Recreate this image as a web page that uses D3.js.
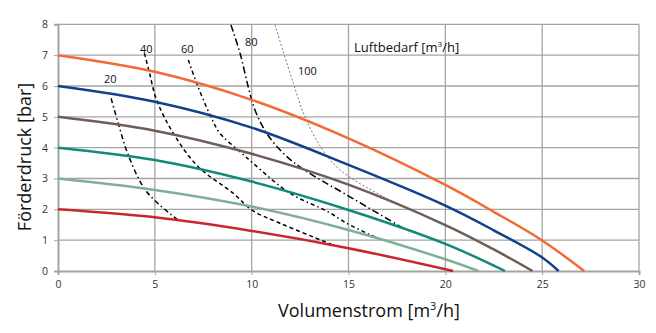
<!DOCTYPE html>
<html><head><meta charset="utf-8">
<script src="https://cdn.jsdelivr.net/npm/d3@7"></script>
<style>body{margin:0;background:#fff}svg{display:block}</style>
</head><body>
<svg id="c" width="656" height="333"></svg>
<script>
const xTicks = [0,5,10,15,20,25,30];
const yTicks = [0,1,2,3,4,5,6,7,8];

// pump curves (pressure [bar] vs flow [m3/h])
const pump7 = [[0,7],[5,6.46],[10,5.55],[15,4.3],[20,2.79],[22.5,1.92],[25,0.99],[27.17,0]];
const pump6 = [[0,6],[5,5.49],[10,4.65],[15,3.44],[20,2.12],[22.5,1.32],[25,0.44],[25.85,0]];
const pump5 = [[0,5],[5,4.55],[10,3.8],[15,2.8],[20,1.49],[22.5,0.7],[24.5,0]];
const pump4 = [[0,4],[5,3.6],[10,2.9],[15,1.98],[20,0.88],[23.08,0]];
const pump3 = [[0,3],[5,2.63],[10,2.09],[15,1.33],[20,0.38],[21.7,0]];
const pump2 = [[0,2],[5,1.74],[10,1.3],[15,0.74],[20.4,0]];

// air demand curves
const air20 = [[2.74,5.6],[3.11,4.79],[3.63,3.76],[4.58,2.57],[6.3,1.6]];
const air40 = [[4.46,7.06],[4.71,6.46],[5.09,5.55],[5.95,4.47],[7.24,3.38],[9.05,2.52],[10,1.98],[11.46,1.55],[13.78,0.95],[14.21,0.84]];
const air60 = [[6.73,6.84],[7.16,6.09],[7.85,5.06],[8.36,4.47],[9.4,3.87],[10.08,3.49],[11.98,2.52],[13.95,1.92],[14.9,1.55],[16.62,1.03]];
const air80 = [[8.93,7.98],[9.4,7.06],[9.82,5.98],[10.17,5.22],[10.77,4.47],[11.63,3.82],[12.66,3.3],[14.9,2.47],[17.9,1.36]];
const air100 = [[11.2,7.98],[12.15,6.09],[12.75,5.0],[13.61,3.98],[14.56,3.28],[16.8,2.41],[18.2,2.0]];

const airLabels = ["20","40","60","80","100"];
const airLabelX = [2.37,4.23,6.35,9.65,12.39];
const airLabelY = [6.1,7.07,7.07,7.3,6.36];

const pumpSeries = [
  {data: pump7, color:"#f26a35"},
  {data: pump6, color:"#12408a"},
  {data: pump5, color:"#6e5f56"},
  {data: pump4, color:"#0f8b7b"},
  {data: pump3, color:"#80b093"},
  {data: pump2, color:"#c9262f"}
];
const airSeries = [
  {data: air20, dash:"5,3,1.5,3", color:"#000", w:1.5},
  {data: air40, dash:"4,3", color:"#000", w:1.5},
  {data: air60, dash:"4,3,1.5,3", color:"#000", w:1.5},
  {data: air80, dash:"7,3,1.5,3", color:"#000", w:1.5},
  {data: air100, dash:"2,2", color:"#777", w:1}
];

const svg = d3.select("#c");
const x = d3.scaleLinear().domain([0,30]).range([58,639]);
const y = d3.scaleLinear().domain([0,8]).range([271,24.3]);

// grid
svg.append("g").selectAll("line").data(xTicks.slice(1)).join("line")
  .attr("x1",d=>x(d)).attr("x2",d=>x(d)).attr("y1",y(0)).attr("y2",y(8))
  .attr("stroke","#a4a4a4").attr("stroke-width",1.3);
svg.append("g").selectAll("line").data(yTicks.slice(1)).join("line")
  .attr("x1",x(0)).attr("x2",x(30)).attr("y1",d=>y(d)).attr("y2",d=>y(d))
  .attr("stroke","#a4a4a4").attr("stroke-width",1.3);

// axes
const xa = svg.append("g").attr("transform",`translate(0,${y(0)})`)
  .call(d3.axisBottom(x).tickValues(xTicks).tickSize(4).tickPadding(6));
const ya = svg.append("g").attr("transform",`translate(${x(0)},0)`)
  .call(d3.axisLeft(y).tickValues(yTicks).tickSize(4).tickPadding(6));
[xa,ya].forEach(a=>{
  a.select(".domain").attr("stroke","#a4a4a4").attr("stroke-width",2);
  a.selectAll(".tick line").attr("stroke","#a4a4a4");
  a.selectAll("text").attr("font-family","'Open Sans', sans-serif").attr("font-size",10.5).attr("fill","#333");
});

const line = d3.line().x(d=>x(d[0])).y(d=>y(d[1])).curve(d3.curveCatmullRom);

svg.append("g").selectAll("path").data(airSeries).join("path")
  .attr("d",d=>line(d.data)).attr("fill","none").attr("stroke",d=>d.color)
  .attr("stroke-width",d=>d.w).attr("stroke-dasharray",d=>d.dash);

svg.append("g").selectAll("path").data(pumpSeries).join("path")
  .attr("d",d=>line(d.data)).attr("fill","none").attr("stroke",d=>d.color)
  .attr("stroke-width",2.5);

svg.append("g").selectAll("text").data(airLabels).join("text")
  .attr("x",(d,i)=>x(airLabelX[i])).attr("y",(d,i)=>y(airLabelY[i])).text(d=>d)
  .attr("font-family","'Open Sans', sans-serif").attr("font-size",11).attr("fill","#111");

const t = svg.append("text").attr("x",354).attr("y",52)
  .attr("font-family","'Open Sans', sans-serif").attr("font-size",13).attr("fill","#111");
t.append("tspan").text("Luftbedarf [m");
t.append("tspan").text("3").attr("font-size",8).attr("dy",-5);
t.append("tspan").text("/h]").attr("dy",5);

const xl = svg.append("text").attr("x",369).attr("y",317).attr("text-anchor","middle")
  .attr("font-family","'Open Sans', sans-serif").attr("font-size",18).attr("fill","#111");
xl.append("tspan").text("Volumenstrom [m");
xl.append("tspan").text("3").attr("font-size",11).attr("dy",-7);
xl.append("tspan").text("/h]").attr("dy",7);

svg.append("text").attr("transform","translate(31,157) rotate(-90)").attr("text-anchor","middle")
  .attr("font-family","'Open Sans', sans-serif").attr("font-size",18).attr("fill","#111")
  .text("Förderdruck [bar]");
</script>
</body></html>
